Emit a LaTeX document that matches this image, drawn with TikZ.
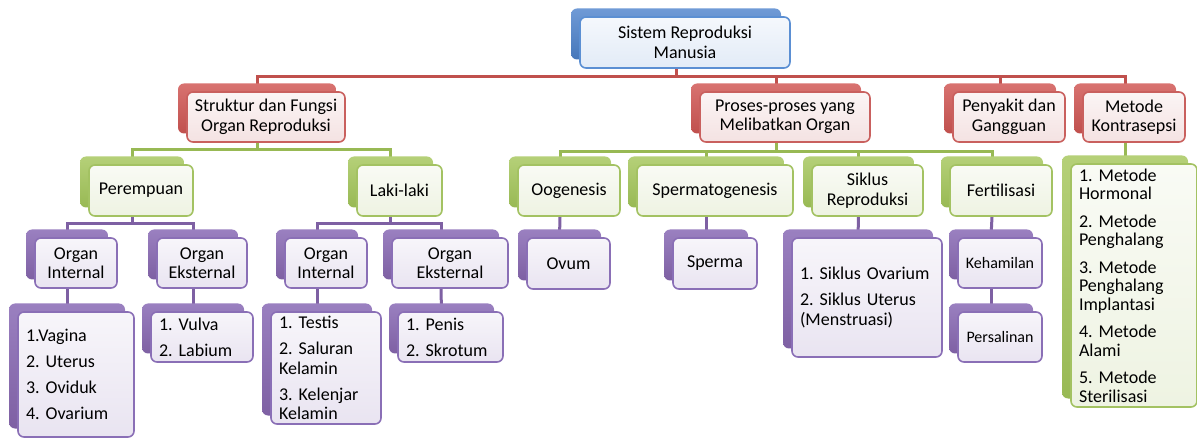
\documentclass[tikz,border=0pt]{standalone}
\usepackage{fontspec}
\setmainfont{Carlito}
\usetikzlibrary{shadows,calc}
\pgfdeclarelayer{bg}
\pgfsetlayers{bg,main}
\frenchspacing
\definecolor{bluA}{HTML}{4677BA}
\definecolor{bluL}{HTML}{6F9AD6}
\definecolor{bluB}{HTML}{5B8FD3}
\definecolor{bluF}{HTML}{E2EBF7}
\definecolor{redA}{HTML}{C0504D}
\definecolor{redL}{HTML}{D87270}
\definecolor{redB}{HTML}{C9605E}
\definecolor{redF}{HTML}{F4E2E2}
\definecolor{grnA}{HTML}{98B954}
\definecolor{grnL}{HTML}{B5D078}
\definecolor{grnB}{HTML}{A3C262}
\definecolor{grnF}{HTML}{EEF3E2}
\definecolor{purA}{HTML}{7E60A3}
\definecolor{purL}{HTML}{9A80C0}
\definecolor{purB}{HTML}{8A6FB6}
\definecolor{purF}{HTML}{E9E4F1}
\tikzset{
  x=1pt, y=-1pt,
  box/.style={rounded corners=6pt, line width=1.6pt, inner sep=0pt, align=center,
    font=\fontsize{18}{19.5}\selectfont\frenchspacing},
  sbox/.style 2 args={box, draw=#1B, top color=#1F!35!white, bottom color=#1F,
    minimum width=#2,
    general shadow={shadow xshift=-9pt, shadow yshift=8.5pt, top color=#1L, bottom color=#1A, draw=none}},
  bluebox/.style={sbox={blu}{#1}},
  redbox/.style={sbox={red}{#1}},
  grnbox/.style={sbox={grn}{#1}},
  purbox/.style={sbox={pur}{#1}},
  listtext/.style={align=left, inner xsep=8pt, text width=#1-16pt},
  redline/.style={draw=redA, line width=3pt},
  grnline/.style={draw=grnA, line width=3pt},
  purline/.style={draw=purA, line width=3pt},
}
\begin{document}
\begin{tikzpicture}
\useasboundingbox (0,0) rectangle (1197,438);
% root
\node[bluebox=210pt, minimum height=51pt] (root) at (685,42.5) {Sistem Reproduksi\\Manusia};
% level 1
\node[redbox=158pt, minimum height=50pt] (struk) at (266,117) {Struktur dan Fungsi\\Organ Reproduksi};
\node[redbox=170pt, minimum height=50pt] (proses) at (785,117) {Proses-proses yang\\Melibatkan Organ};
\node[redbox=112pt, minimum height=50pt] (peny) at (1009,117) {Penyakit dan\\Gangguan};
\node[redbox=102pt, minimum height=50pt] (kontra) at (1134,117) {Metode\\Kontrasepsi};
% level 2
\node[grnbox=104pt, minimum height=51pt] (perem) at (141,190.5) {Perempuan};
\node[grnbox=85pt, minimum height=51pt] (laki) at (399.5,190.5) {Laki-laki};
\node[grnbox=102pt, minimum height=51pt] (oog) at (569,190.5) {Oogenesis};
\node[grnbox=156pt, minimum height=51pt] (sperm) at (715,190.5) {Spermatogenesis};
\node[grnbox=111pt, minimum height=51pt] (siklus) at (867.5,190.5) {Siklus\\Reproduksi};
\node[grnbox=102pt, minimum height=51pt] (fert) at (1001,190.5) {Fertilisasi};
\node[grnbox=126pt, minimum height=243pt, listtext=126pt, font=\fontsize{18}{18.5}\selectfont\frenchspacing] (metl) at (1134,285.5)
  {1. Metode\\Hormonal\\[9pt]2. Metode\\Penghalang\\[9pt]3. Metode\\Penghalang\\Implantasi\\[9pt]4. Metode\\Alami\\[9pt]5. Metode\\Sterilisasi};
% level 3
\node[purbox=82pt, minimum height=50pt] (porgi) at (76,263) {Organ\\Internal};
\node[purbox=90pt, minimum height=50pt] (porge) at (202,263) {Organ\\Eksternal};
\node[purbox=82pt, minimum height=50pt] (lorgi) at (326,263) {Organ\\Internal};
\node[purbox=116pt, minimum height=50pt] (lorge) at (450,263) {Organ\\Eksternal};
\node[purbox=83pt, minimum height=51pt] (ovum) at (568.5,263.5) {Ovum};
\node[purbox=84pt, minimum height=51pt] (sperma) at (715,263.5) {Sperma};
\node[purbox=150pt, minimum height=119pt, listtext=150pt] (slist) at (867,297.5)
  {1. Siklus Ovarium\\[6.5pt]2. Siklus Uterus\\(Menstruasi)};
\node[purbox=84pt, minimum height=50pt, font=\fontsize{16}{18}\selectfont] (keh) at (1000,263) {Kehamilan};
% level 4
\node[purbox=116pt, minimum height=125pt, listtext=116pt] (pilist) at (76,374.5)
  {1.Vagina\\[6.5pt]2. Uterus\\[6.5pt]3. Oviduk\\[6.5pt]4. Ovarium};
\node[purbox=102pt, minimum height=50pt, listtext=102pt] (pelist) at (202,337)
  {1. Vulva\\[6.5pt]2. Labium};
\node[purbox=110pt, minimum height=112pt, listtext=110pt] (lilist) at (326,368)
  {1. Testis\\[6.5pt]2. Saluran\\Kelamin\\[6.5pt]3. Kelenjar\\Kelamin};
\node[purbox=105pt, minimum height=50pt, listtext=105pt] (lelist) at (450.5,337)
  {1. Penis\\[6.5pt]2. Skrotum};
\node[purbox=84pt, minimum height=50pt, font=\fontsize{16}{18}\selectfont] (pers) at (1000,337) {Persalinan};
% connectors
\begin{pgfonlayer}{bg}
\foreach \c in {struk,proses,peny,kontra}
  \draw[redline] ([xshift=-9pt]root.south) -- ++(0,8) -| ([xshift=-9pt]\c.north);
\foreach \c in {perem,laki}
  \draw[grnline] ([xshift=-9pt]struk.south) -- ++(0,7) -| ([xshift=-9pt]\c.north);
\foreach \c in {oog,sperm,siklus,fert}
  \draw[grnline] ([xshift=-9pt]proses.south) -- ++(0,9) -| ([xshift=-9pt]\c.north);
\draw[grnline] ([xshift=-9pt]kontra.south) -- ([xshift=-9pt]metl.north);
\foreach \c in {porgi,porge}
  \draw[purline] ([xshift=-9pt]perem.south) -- ++(0,7) -| ([xshift=-9pt]\c.north);
\foreach \c in {lorgi,lorge}
  \draw[purline] ([xshift=-9pt]laki.south) -- ++(0,7) -| ([xshift=-9pt]\c.north);
\draw[purline] ([xshift=-9pt]porgi.south) -- ([xshift=-9pt]pilist.north);
\draw[purline] ([xshift=-9pt]porge.south) -- ([xshift=-9pt]pelist.north);
\draw[purline] ([xshift=-9pt]lorgi.south) -- ([xshift=-9pt]lilist.north);
\draw[purline] ([xshift=-9pt]lorge.south) -- ([xshift=-9pt]lelist.north);
\draw[purline] ([xshift=-9pt]oog.south) -- ([xshift=-9pt]ovum.north);
\draw[purline] ([xshift=-9pt]sperm.south) -- ([xshift=-9pt]sperma.north);
\draw[purline] ([xshift=-9pt]siklus.south) -- ([xshift=-9pt]slist.north);
\draw[purline] ([xshift=-9pt]fert.south) -- ([xshift=-9pt]keh.north);
\draw[purline] ([xshift=-9pt]keh.south) -- ([xshift=-9pt]pers.north);
\end{pgfonlayer}
\end{tikzpicture}
\end{document}
